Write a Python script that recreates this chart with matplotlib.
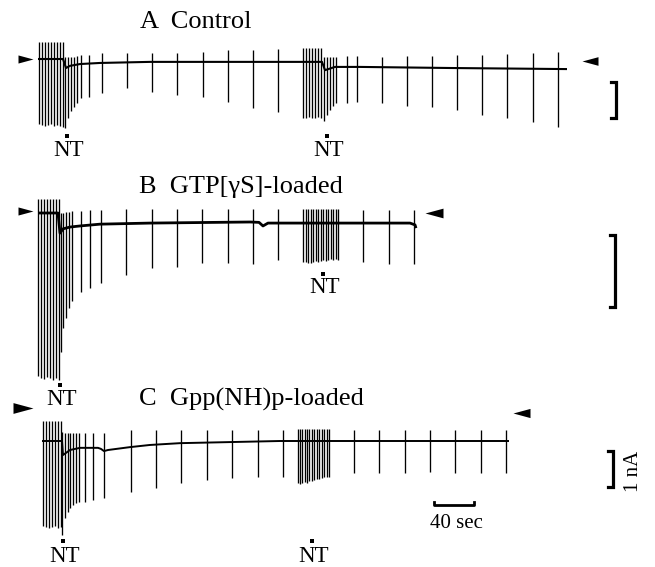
import matplotlib
matplotlib.use("Agg")
import matplotlib.pyplot as plt
from matplotlib.path import Path

plt.rcParams['font.family'] = ['Liberation Serif', 'DejaVu Serif']

# ---------------- data (time in s, current in nA, relative to initial holding) -------------
# Panel A: Control
A_pulse_t = [1, 4, 7, 10, 13, 16, 19, 22, 25,
             27, 30, 33, 36, 39, 43, 51, 64, 89, 114, 139, 165, 190, 215, 240,
             265, 268, 271, 274, 277, 280, 283,
             286, 289, 292, 295, 298, 309, 319, 344, 369, 394, 419, 444, 469, 495, 520]
A_pulse_top = [0.47, 0.47, 0.47, 0.47, 0.47, 0.47, 0.47, 0.47, 0.47,
               0.06, 0.06, 0.06, 0.06, 0.08, 0.11, 0.11, 0.17, 0.17, 0.17, 0.17, 0.19, 0.25, 0.25, 0.28,
               0.31, 0.31, 0.31, 0.31, 0.31, 0.31, 0.31,
               0.06, 0.06, 0.06, 0.06, 0.06, 0.08, 0.08, 0.06, 0.08, 0.08, 0.11, 0.11, 0.14, 0.17, 0.19]
A_pulse_bot = [-1.81, -1.83, -1.86, -1.83, -1.81, -1.86, -1.83, -1.86, -1.89,
               -1.92, -1.64, -1.44, -1.33, -1.22, -1.08, -1.06, -0.94, -0.81, -0.92, -1.00, -1.06, -1.19, -1.36, -1.47,
               -1.64, -1.64, -1.61, -1.64, -1.64, -1.61, -1.64,
               -1.72, -1.56, -1.42, -1.31, -1.22, -1.22, -1.19, -1.22, -1.31, -1.33, -1.42, -1.56, -1.64, -1.75, -1.89]
A_hold_t = [0, 25, 28, 32, 42, 62, 112, 262, 284, 287, 297, 322, 412, 529]
A_hold_i = [0, 0, -0.25, -0.19, -0.14, -0.11, -0.08, -0.08, -0.08, -0.31, -0.22, -0.22, -0.25, -0.28]

# Panel B: GTP[gammaS]-loaded
B_pulse_t = [0, 3, 6, 9, 12, 15, 18, 21,
             23, 25, 28, 31, 34, 43, 52, 63, 88, 114, 139, 164, 190, 215, 240,
             265, 267.5, 270, 272.5, 275, 277.5, 280, 282.5, 285, 287.5, 290, 292.5, 295, 297.5, 300,
             325, 351, 376]
B_pulse_top = [0.39, 0.39, 0.39, 0.39, 0.39, 0.39, 0.39, 0.39,
               0.0, 0.0, 0.03, 0.03, 0.06, 0.06, 0.08, 0.08, 0.11, 0.11, 0.11, 0.11, 0.11, 0.11, 0.11,
               0.11, 0.11, 0.11, 0.11, 0.11, 0.11, 0.11, 0.11, 0.11, 0.11, 0.11, 0.11, 0.11, 0.11, 0.11,
               0.08, 0.08, 0.08]
B_pulse_bot = [-4.53, -4.58, -4.61, -4.56, -4.58, -4.64, -4.58, -4.64,
               -3.86, -3.19, -2.92, -2.64, -2.44, -2.19, -2.08, -1.94, -1.72, -1.53, -1.50, -1.39, -1.39, -1.42, -1.31,
               -1.36, -1.36, -1.39, -1.39, -1.36, -1.33, -1.36, -1.33, -1.31, -1.33, -1.31, -1.28, -1.31, -1.28, -1.31,
               -1.36, -1.42, -1.42]
B_hold_t = [0, 20, 22, 25, 32, 42, 62, 112, 212, 221, 225, 230, 262, 342, 372, 377, 378]
B_hold_i = [0, 0, -0.56, -0.44, -0.39, -0.36, -0.31, -0.28, -0.25, -0.26, -0.36, -0.28, -0.28, -0.28, -0.28, -0.33, -0.42]

# Panel C: Gpp(NH)p-loaded
C_pulse_t = [5, 8, 11, 14, 17, 20, 23,
             24, 27, 30, 32, 35, 38, 41, 47, 55, 66, 93, 118, 143, 169, 194, 220, 245,
             260, 262, 264, 267, 269, 271, 274, 276, 279, 281, 284, 286, 289, 291,
             316, 341, 367, 392, 417, 443, 468]
C_pulse_top = [0.56, 0.56, 0.56, 0.56, 0.56, 0.56, 0.56,
               0.25, 0.22, 0.22, 0.22, 0.22, 0.22, 0.22, 0.22, 0.22, 0.22, 0.31, 0.31, 0.31, 0.31, 0.31, 0.31, 0.31,
               0.33, 0.33, 0.33, 0.33, 0.33, 0.33, 0.33, 0.33, 0.33, 0.33, 0.33, 0.33, 0.33, 0.33,
               0.31, 0.31, 0.31, 0.31, 0.31, 0.31, 0.31]
C_pulse_bot = [-2.36, -2.39, -2.42, -2.39, -2.36, -2.42, -2.39,
               -2.61, -2.14, -1.97, -1.86, -1.78, -1.72, -1.69, -1.69, -1.64, -1.58, -1.42, -1.31, -1.17, -1.08, -1.03, -1.00, -1.00,
               -1.17, -1.19, -1.17, -1.14, -1.17, -1.11, -1.11, -1.08, -1.06, -1.06, -1.03, -1.00, -1.00, -1.00,
               -0.89, -0.89, -0.89, -0.86, -0.89, -0.89, -0.89]
C_hold_t = [4, 24, 25, 32, 42, 60, 63, 66, 70, 92, 112, 142, 192, 242, 471]
C_hold_i = [0, 0, -0.39, -0.25, -0.19, -0.19, -0.22, -0.28, -0.25, -0.17, -0.11, -0.06, -0.03, 0, 0]

# NT application labels (time s) per panel
A_nt_t = [31, 291]
B_nt_t = [24, 287]
C_nt_t = [27, 276]

# zero-current arrowheads (time of tip, level nA): left and right
A_arrows = [(-5, 0.0), (544, -0.06)]
B_arrows = [(-5, 0.06), (387, 0.0)]
C_arrows = [(-5, 0.92), (475, 0.78)]

# scale bars
A_bar_nA, B_bar_nA, C_bar_nA = 1, 2, 1
time_bar_s = 40

titles = ["A  Control", "B  GTP[\u03b3S]-loaded", "C  Gpp(NH)p-loaded"]

# ---------------- layout -------------
W, H = 655, 567
fig = plt.figure(figsize=(W / 100, H / 100), dpi=100)
GAIN = 36.0   # px per nA
T0 = 38.0     # px position of t = 0
PX2PT = 0.72


def panel(top_px, bot_px, ref_px):
    ax = fig.add_axes([0, 1 - bot_px / H, 1, (bot_px - top_px) / H])
    ax.set_xlim(-T0, W - T0)
    ax.set_ylim((ref_px - bot_px) / GAIN, (ref_px - top_px) / GAIN)
    ax.axis('off')
    ax.patch.set_alpha(0)
    return ax


RIGHT = Path([(-1, -0.27), (0, 0), (-1, 0.27), (-1, -0.27)],
             [Path.MOVETO, Path.LINETO, Path.LINETO, Path.CLOSEPOLY])
LEFT = Path([(1, -0.27), (0, 0), (1, 0.27), (1, -0.27)],
            [Path.MOVETO, Path.LINETO, Path.LINETO, Path.CLOSEPOLY])


def draw_trace(ax, pt, ptop, pbot, ht, hi, arrows, arrow_px, lw):
    ax.vlines(pt, pbot, ptop, colors='k', lw=0.95, clip_on=False)
    ax.plot(ht, hi, color='k', lw=lw, solid_capstyle='butt', clip_on=False)
    (lt, ly), (rt, ry) = arrows
    ax.plot([lt], [ly], marker=RIGHT, ms=2 * arrow_px[0] * PX2PT, color='k', mew=0, clip_on=False)
    ax.plot([rt], [ry], marker=LEFT, ms=2 * arrow_px[1] * PX2PT, color='k', mew=0, clip_on=False)


def nt_label(ax, t, y_text, y_dot):
    ax.text(t, y_text, "NT", ha='center', va='center', fontsize=16.5)
    ax.plot([t - 2], [y_dot], marker='s', ms=3.0, color='k', mew=0, clip_on=False)


def bracket(ax, t, top, length):
    ax.plot([t - 5, t, t, t - 5], [top, top, top - length, top - length],
            color='k', lw=2.3, solid_joinstyle='miter', clip_on=False)


axA = panel(0, 170, 59)
axB = panel(165, 412, 213)
axC = panel(380, 567, 441)

draw_trace(axA, A_pulse_t, A_pulse_top, A_pulse_bot, A_hold_t, A_hold_i, A_arrows, (15, 16), 1.5)
draw_trace(axB, B_pulse_t, B_pulse_top, B_pulse_bot, B_hold_t, B_hold_i, B_arrows, (15, 18), 2.0)
draw_trace(axC, C_pulse_t, C_pulse_top, C_pulse_bot, C_hold_t, C_hold_i, C_arrows, (20, 17), 1.4)

for t in A_nt_t:
    nt_label(axA, t, -2.53, -2.14)
nt_label(axB, B_nt_t[0], -5.19, -4.78)
nt_label(axB, B_nt_t[1], -2.06, -1.69)
for t in C_nt_t:
    nt_label(axC, t, -3.22, -2.78)

bracket(axA, 578, -0.64, A_bar_nA)
bracket(axB, 577, -0.61, B_bar_nA)
bracket(axC, 575, -0.28, C_bar_nA)

# time bar
tb0 = 396
axC.plot([tb0, tb0, tb0 + time_bar_s, tb0 + time_bar_s], [-1.70, -1.78, -1.78, -1.70],
         color='k', lw=2.0, clip_on=False)
axC.text(tb0 + time_bar_s / 2 + 2, -2.28, f"{time_bar_s} sec", ha='center', va='center', fontsize=15)
fig.text(634 / W, 1 - 471 / H, f"{C_bar_nA} nA", rotation=90, ha='center', va='center', fontsize=15)

# titles
for (x, y), s in zip([(196, 22), (241, 187), (251, 399)], titles):
    fig.text(x / W, 1 - y / H, s, ha='center', va='center', fontsize=19)

fig.savefig("out.png", dpi=100)
